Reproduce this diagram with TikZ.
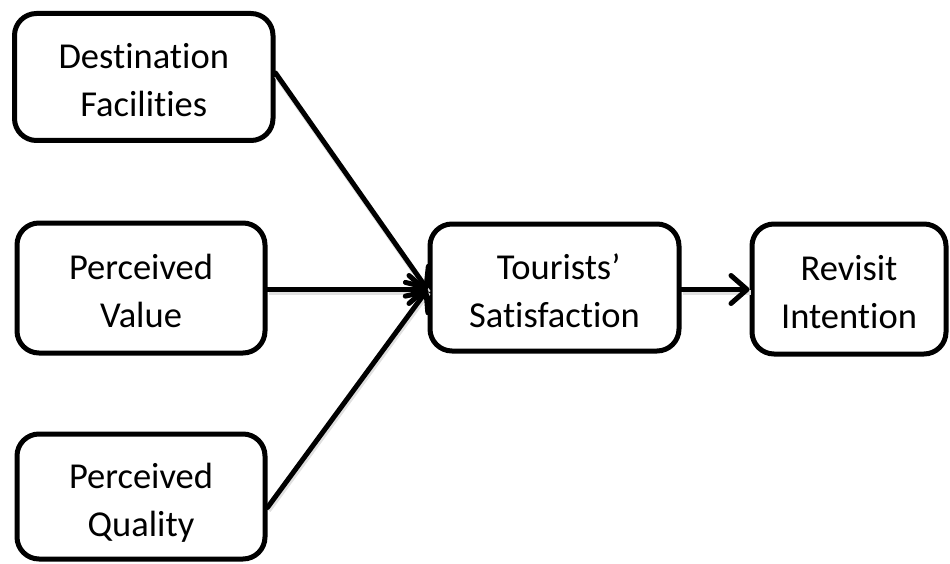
\documentclass[tikz,border=0pt]{standalone}
\usepackage{fontspec}
\setmainfont[Ligatures={NoCommon}]{Carlito}
\usetikzlibrary{arrows.meta}
\newcommand\boxtext[1]{\raisebox{-6pt}[\height][\depth]{\begin{tabular}{@{}c@{}}#1\end{tabular}}}
\begin{document}
\begin{tikzpicture}[x=1pt,y=-1pt,
  box/.style={draw, line width=5pt, rounded corners=22pt, inner sep=0pt,
    font=\fontsize{36.5}{48}\selectfont, fill=white},
  conn/.style={line width=5pt, line cap=round,
    -{Straight Barb[length=16pt,width=28pt,line cap=round,line join=round]},
    preaction={draw=black!12, line width=5pt, transform canvas={shift={(1pt,-3pt)}}, arrows=-}}]
\useasboundingbox (0,0) rectangle (950,564);
\node[box, minimum width=258.5pt, minimum height=127pt] (df) at (143.75,77) {\boxtext{Destination\\Facilities}};
\node[box, minimum width=248pt, minimum height=130pt] (pv) at (141,288) {\boxtext{Perceived\\Value}};
\node[box, minimum width=248pt, minimum height=125pt] (pq) at (141,496.5) {\boxtext{Perceived\\Quality}};
\node[box, minimum width=249pt, minimum height=127pt] (ts) at (554.5,287.5) {\boxtext{\ Tourists’\\Satisfaction}};
\node[box, minimum width=194pt, minimum height=130pt] (rv) at (849,289) {\boxtext{Revisit\\Intention}};
\coordinate (tin) at ([yshift=-2pt]ts.west);
\draw[conn] ([yshift=4pt]df.east) -- (tin);
\draw[conn] (pv.east |- tin) -- (tin);
\draw[conn] ([yshift=-11pt]pq.east) -- (tin);
\draw[conn] (ts.east |- tin) -- (rv.west |- tin);
\end{tikzpicture}
\end{document}
